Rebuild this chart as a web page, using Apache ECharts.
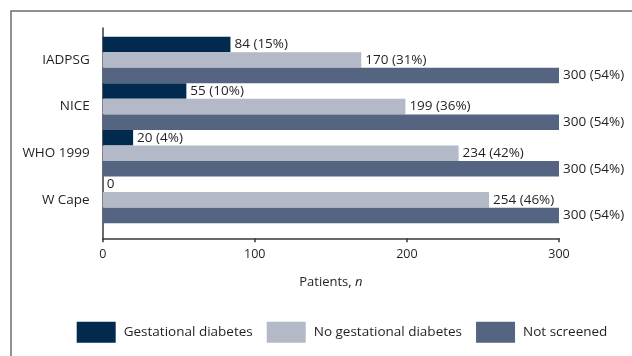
<!DOCTYPE html>
<html><head><meta charset="utf-8">
<script src="https://cdn.jsdelivr.net/npm/echarts@6/dist/echarts.min.js"></script>
<style>html,body{margin:0;padding:0;background:#fff}#c{width:632px;height:356px}</style>
</head><body><div id="c"></div>
<script>
const categories = ['IADPSG', 'NICE', 'WHO 1999', 'W Cape'];
const seriesNames = ['Gestational diabetes', 'No gestational diabetes', 'Not screened'];
const gestational = [84, 55, 20, 0];
const gestationalPct = [15, 10, 4, 0];
const noGestational = [170, 199, 234, 254];
const noGestationalPct = [31, 36, 42, 46];
const notScreened = [300, 300, 300, 300];
const notScreenedPct = [54, 54, 54, 54];
const xTicks = [0, 100, 200, 300];

const colors = ['#022a4f', '#b3b9c7', '#546481'];
const FONT = '"Open Sans", sans-serif';
const TXT = '#231f20';

function mkSeries(name, vals, pcts, color) {
  return {
    name, type: 'bar', xAxisIndex: 0, yAxisIndex: 0,
    data: vals, barGap: '0%', barCategoryGap: '0%',
    itemStyle: { color },
    label: {
      show: true, position: 'right', distance: 4, color: TXT, fontSize: 13.5, fontFamily: FONT,
      formatter: p => p.value === 0 ? '0' : p.value + ' (' + pcts[p.dataIndex] + '%)'
    }
  };
}

const chart = echarts.init(document.getElementById('c'));
chart.setOption({
  animation: false,
  textStyle: { fontFamily: FONT },
  graphic: [{
    type: 'rect', shape: { x: 11, y: 11, width: 700, height: 400 },
    style: { fill: 'none', stroke: '#6e6e6e', lineWidth: 1.5 }, silent: true, z: -1
  }],
  grid: [
    { left: 102.7, right: 73, top: 36.7, bottom: 132.8 },
    { left: 102.7, right: 73, top: 28, bottom: 117.7 }
  ],
  xAxis: [
    { gridIndex: 0, type: 'value', min: 0, max: 300, interval: 100, show: false },
    {
      gridIndex: 1, type: 'value', min: 0, max: 300, interval: 100,
      axisLine: { show: true, lineStyle: { color: '#3a3a3a', width: 1.5 } },
      axisTick: { show: true, length: 4, lineStyle: { color: '#3a3a3a', width: 1.5 } },
      splitLine: { show: false },
      axisLabel: { color: TXT, fontSize: 12.5, margin: 10, formatter: v => xTicks.includes(v) ? String(v) : '' },
      name: '{a|Patients, }{b|n}', nameLocation: 'middle', nameGap: 37,
      nameTextStyle: { rich: { a: { fontSize: 13, color: TXT, fontFamily: FONT }, b: { fontSize: 13, color: TXT, fontStyle: 'italic', fontFamily: FONT } } }
    }
  ],
  yAxis: [
    {
      gridIndex: 0, type: 'category', data: categories, inverse: true,
      axisLine: { show: false }, axisTick: { show: false },
      axisLabel: { color: TXT, fontSize: 13.5, margin: 13 }
    },
    {
      gridIndex: 1, type: 'value', min: 0, max: 1,
      axisLine: { show: true, lineStyle: { color: '#3a3a3a', width: 1.5 } },
      axisTick: { show: false }, axisLabel: { show: false }, splitLine: { show: false }
    }
  ],
  legend: {
    left: 71.7, top: 316.7, itemWidth: 39, itemHeight: 21, itemGap: 14,
    icon: 'rect', data: seriesNames,
    textStyle: { color: TXT, fontSize: 13.5, fontFamily: FONT, padding: [0, 0, 0, 3] }
  },
  series: [
    mkSeries(seriesNames[0], gestational, gestationalPct, colors[0]),
    mkSeries(seriesNames[1], noGestational, noGestationalPct, colors[1]),
    mkSeries(seriesNames[2], notScreened, notScreenedPct, colors[2])
  ]
});
</script></body></html>
